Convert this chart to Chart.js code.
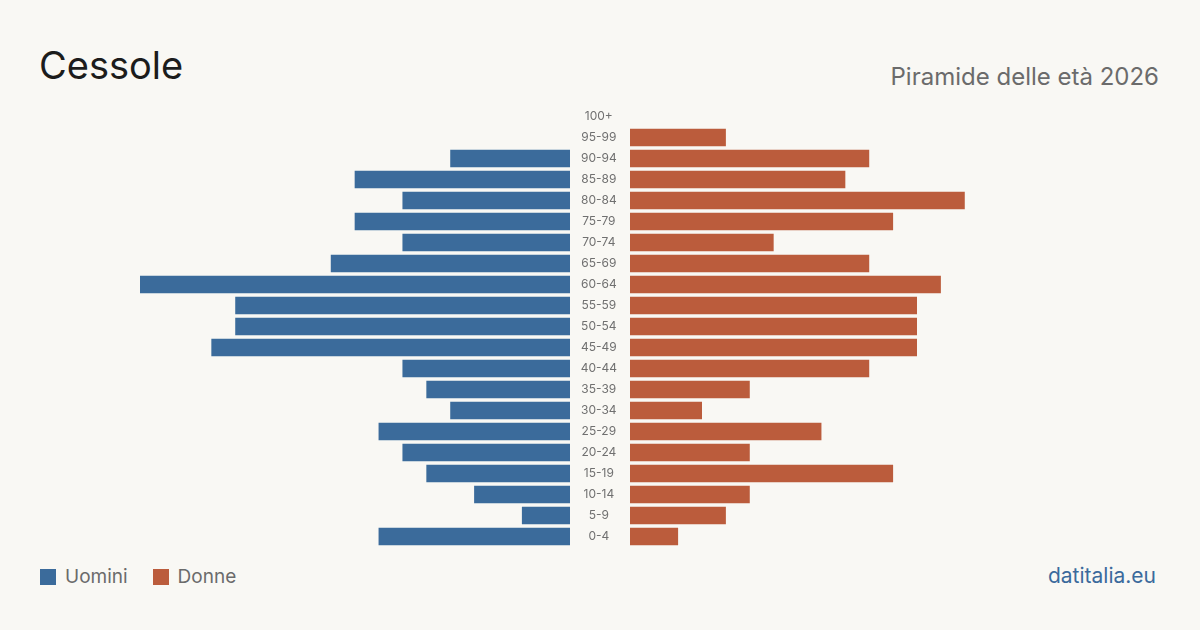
<!DOCTYPE html>
<html>
<head>
<meta charset="utf-8">
<script src="https://cdn.jsdelivr.net/npm/chart.js@4/dist/chart.umd.min.js"></script>
<style>
  html, body { margin: 0; padding: 0; }
  body { width: 1200px; height: 630px; background: #f9f8f4; position: relative; overflow: hidden; font-family: Inter, "Noto Sans", sans-serif; }
  #title { position: absolute; left: 39px; top: 46px; font-size: 38px; color: #1c1c1c; line-height: 1; }
  #subtitle { position: absolute; right: 41px; top: 65px; font-size: 24px; color: #6b6b6b; line-height: 1; }
  #legend { position: absolute; left: 40px; top: 566px; font-size: 19px; color: #6b6b6b; line-height: 22px; }
  #legend span.sw { display: inline-block; width: 16px; height: 16px; vertical-align: -2px; margin-right: 9px; }
  #legend span.item { margin-right: 25px; }
  #source { position: absolute; right: 44px; top: 565px; font-size: 21px; color: #3b6a9c; line-height: 22px; }
  canvas { position: absolute; }
  #leftChart { left: 140px; top: 106px; }
  #rightChart { left: 570px; top: 106px; }
</style>
</head>
<body>
<div id="title">Cessole</div>
<div id="subtitle">Piramide delle età 2026</div>
<div id="legend"></div>
<div id="source">datitalia.eu</div>
<canvas id="leftChart" width="430" height="441"></canvas>
<canvas id="rightChart" width="490" height="441"></canvas>
<script>
var ageGroups = ['100+', '95-99', '90-94', '85-89', '80-84', '75-79', '70-74', '65-69', '60-64', '55-59',
                 '50-54', '45-49', '40-44', '35-39', '30-34', '25-29', '20-24', '15-19', '10-14', '5-9', '0-4'];
var men   = [0, 0, 5, 9, 7, 9, 7, 10, 18, 14, 14, 15, 7, 6, 5, 8, 7, 6, 4, 2, 8];
var women = [0, 4, 10, 9, 14, 11, 6, 10, 13, 12, 12, 12, 10, 5, 3, 8, 5, 11, 5, 4, 2];
var seriesNames = ['Uomini', 'Donne'];

var blue = '#3b6b9b';
var orange = '#bb5c3c';
var scaleMax = 18;

// legend in html
var legend = document.getElementById('legend');
[[seriesNames[0], blue], [seriesNames[1], orange]].forEach(function(s){
    var item = document.createElement('span');
    item.className = 'item';
    item.innerHTML = '<span class="sw" style="background:' + s[1] + '"></span>' + s[0];
    legend.appendChild(item);
});

// zero counts -> no bar at all (avoids a hairline)
function noZero(arr){
    return arr.map(function(v){ return v === 0 ? null : v; });
}

function baseOptions(){
    return {
        responsive: false,
        animation: false,
        indexAxis: 'y',
        layout: { padding: 0 },
        plugins: { legend: { display: false }, tooltip: { enabled: false } },
        datasets: { bar: { barThickness: 17 } }
    };
}

// left side: men, axis reversed
var leftOpts = baseOptions();
leftOpts.scales = {
    x: { display: false, min: 0, max: scaleMax, reverse: true },
    y: { display: false }
};
new Chart(document.getElementById('leftChart'), {
    type: 'bar',
    data: {
        labels: ageGroups,
        datasets: [{ label: seriesNames[0], data: noZero(men), backgroundColor: blue, borderWidth: 0 }]
    },
    options: leftOpts
});

// right side: women, age labels on its y axis
var rightOpts = baseOptions();
rightOpts.scales = {
    x: { display: false, min: 0, max: scaleMax },
    y: {
        display: true,
        position: 'left',
        grid: { display: false, drawTicks: false },
        border: { display: false },
        ticks: {
            crossAlign: 'center',
            padding: 13,
            color: '#707070',
            font: { family: 'Inter', size: 12 }
        },
        afterFit: function(scale){
            scale.width = 60;
            scale.paddingTop = 0;
            scale.paddingBottom = 0;
        }
    }
};
new Chart(document.getElementById('rightChart'), {
    type: 'bar',
    data: {
        labels: ageGroups,
        datasets: [{ label: seriesNames[1], data: noZero(women), backgroundColor: orange, borderWidth: 0 }]
    },
    options: rightOpts
});
</script>
</body>
</html>
